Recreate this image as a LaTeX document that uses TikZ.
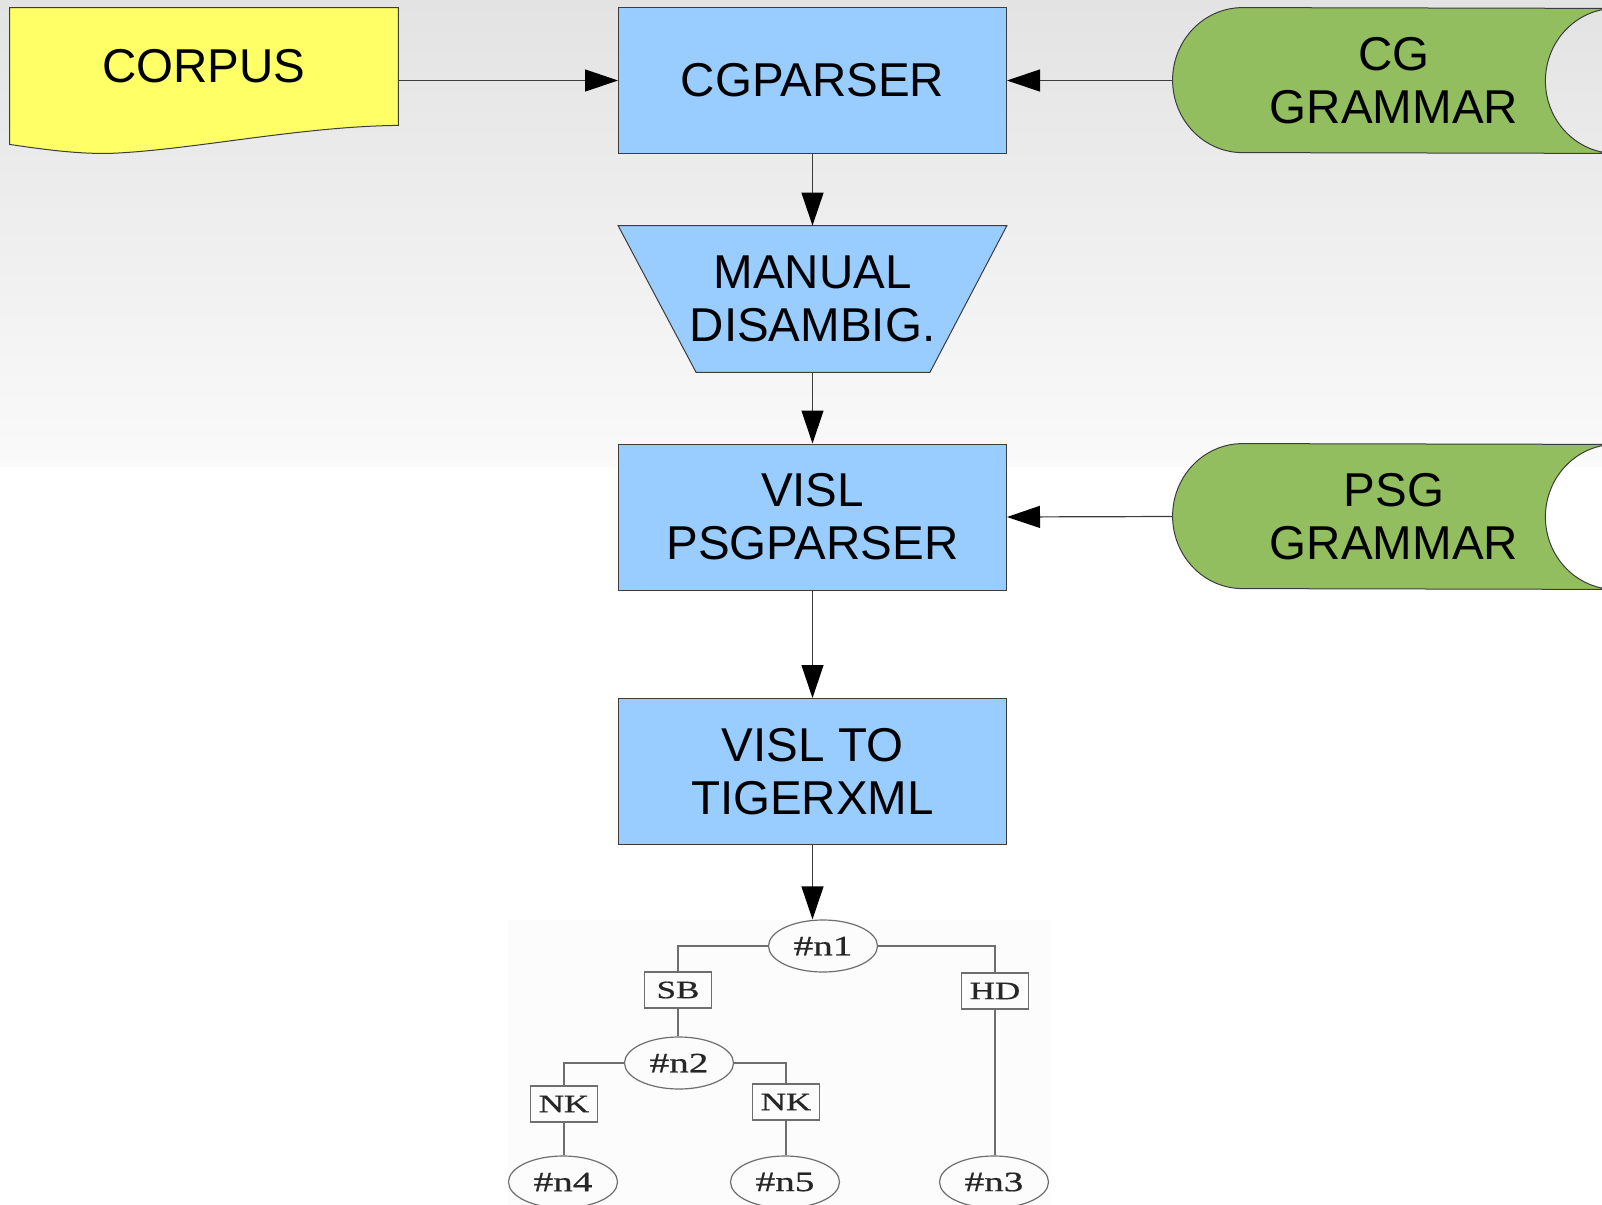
\documentclass[tikz,border=0pt]{standalone}
\usepackage{fontspec}
\setmainfont{Liberation Sans}
\newfontfamily\treefont[FakeStretch=1.4,FakeBold=0.6]{Liberation Serif}
\usetikzlibrary{arrows.meta,positioning,calc,backgrounds,shapes.geometric}

\definecolor{procblue}{HTML}{99CCFF}
\definecolor{docyellow}{HTML}{FFFF66}
\definecolor{storegreen}{HTML}{93BE60}
\definecolor{edgegray}{HTML}{3C3C3C}
\definecolor{treegray}{HTML}{6E6E6E}

\tikzset{
    shapebox/.style={minimum width=194pt, minimum height=73pt, inner sep=0pt, align=center},
    proc/.style={shapebox, draw=edgegray, line width=0.5pt, fill=procblue},
    shapeline/.style={draw=edgegray, line width=0.5pt},
    flow/.style={draw=edgegray, line width=0.6pt, -{Triangle[length=16.5pt,width=11pt,black]}},
    tnode/.style={ellipse, draw=treegray, line width=0.6pt, minimum width=54.5pt, minimum height=26pt,
        inner sep=0pt, text=black!85, font={\fontsize{14}{16}\treefont}},
    tlabel/.style={rectangle, draw=treegray, line width=0.6pt, minimum width=33.5pt, minimum height=18pt,
        inner sep=0pt, text=black!85, font={\fontsize{12.5}{14}\treefont}},
    tedge/.style={draw=treegray, line width=0.7pt}
}

\begin{document}
\begin{tikzpicture}[x=0.5pt, y=-0.5pt, font=\fontsize{23.75}{26.5}\selectfont]
    \useasboundingbox (0,0) rectangle (1602,1205);

    % Processing steps
    \node[proc] (cgparser) at (812.5,80.5) {CGPARSER};
    \node[shapebox] (disamb) at (812.5,299) {MANUAL\\DISAMBIG.};
    \node[proc] (psgparser) at (812.5,517) {VISL\\PSGPARSER};
    \node[proc] (tiger) at (812.5,771.5) {VISL TO\\TIGERXML};

    % Inputs
    \node[shapebox, minimum height=58.5pt] (corpus) at (204,66.5) {CORPUS};
    \node[shapebox, minimum width=221pt, minimum height=72.5pt] (cggram) at (1394,80.5) {CG\\GRAMMAR};
    \node[shapebox, minimum width=221pt, minimum height=72.5pt] (psggram) at (1394,516.5) {PSG\\GRAMMAR};

    % Resulting tree
    \node[tnode] (n1) at (823,946) {\#n1};
    \node[tlabel] (sb) at (678,990) {SB};
    \node[tlabel] (hd) at (995,991) {HD};
    \node[tnode] (n2) at (679,1063) {\#n2};
    \node[tlabel] (nkl) at (564,1104) {NK};
    \node[tlabel] (nkr) at (786,1102) {NK};
    \node[tnode] (n4) at (563,1182) {\#n4};
    \node[tnode] (n5) at (785,1182) {\#n5};
    \node[tnode] (n3) at (994,1182) {\#n3};

    \draw[tedge] (n1.west) -| (sb.north);
    \draw[tedge] (n1.east) -| (hd.north);
    \draw[tedge] (n2.west) -| (nkl.north);
    \draw[tedge] (n2.east) -| (nkr.north);
    \foreach \a/\b in {sb/n2,hd/n3,nkl/n4,nkr/n5}
        \draw[tedge] (\a.south) -- (\a.south |- \b.north);

    % Flow
    \draw[flow] (corpus.east |- cgparser.west) -- (cgparser.west);
    \draw[flow] (cggram.west) -- (cgparser.east);
    \draw[flow] (psggram.west) -- (psgparser.east);
    \draw[flow] (cgparser.south) -- (disamb.north);
    \draw[flow] (disamb.south) -- (psgparser.north);
    \draw[flow] (psgparser.south) -- (tiger.north);
    \draw[flow] (tiger.south) -- (tiger.south |- n1.north);

    \begin{scope}[on background layer]
        \clip (0,0) rectangle (1602,1205);
        \shade[top color=black!11, bottom color=black!2] (0,0) rectangle (1602,466);
        \fill[black!1.2] (508,920) rectangle (1050,1205);
        % trapezium
        \draw[shapeline, fill=procblue] (disamb.north west) -- (disamb.north east)
            -- ($(disamb.south east)+(-77,0)$) -- ($(disamb.south west)+(78,0)$) -- cycle;
        % document with wavy bottom
        \draw[shapeline, fill=docyellow] (corpus.south east) -- (corpus.north east) -- (corpus.north west)
            -- ($(corpus.south west)+(0,19)$)
            .. controls ($(corpus.south west)+(40,25)$) and ($(corpus.south west)+(70,28.5)$) .. ($(corpus.south west)+(100,28)$)
            .. controls ($(corpus.south west)+(180,25)$) and ($(corpus.south west)+(290,1)$) .. (corpus.south east) -- cycle;
        % stored data
        \foreach \g in {cggram,psggram}
            \draw[shapeline, fill=storegreen] ($(\g.north west)+(70,0)$)
                arc[start angle=270, end angle=90, x radius=70, y radius=72.5]
                -- (\g.south east) arc[start angle=90, end angle=270, x radius=70, y radius=72.5] -- cycle;
    \end{scope}
\end{tikzpicture}
\end{document}
